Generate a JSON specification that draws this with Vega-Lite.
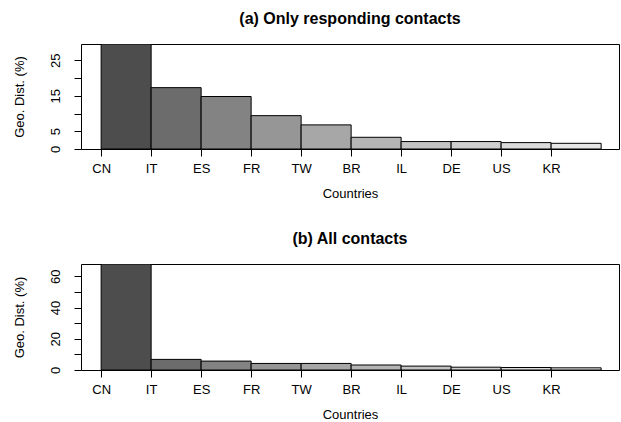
{
  "$schema": "https://vega.github.io/schema/vega-lite/v6.json",
  "background": "white",
  "padding": {"left": 12, "top": 10, "right": 0, "bottom": 0},
  "spacing": 29,
  "config": {
    "font": "Liberation Sans",
    "view": {"stroke": "black", "strokeWidth": 1},
    "axis": {
      "labelFont": "Liberation Sans", "titleFont": "Liberation Sans",
      "labelColor": "black", "titleColor": "black", "tickColor": "black",
      "grid": false, "titleFontWeight": "normal",
      "labelFontSize": 13, "titleFontSize": 13, "tickSize": 7, "domain": false
    },
    "title": {"font": "Liberation Sans", "fontSize": 16, "fontWeight": "bold", "color": "black", "offset": 17, "frame": "group", "anchor": "middle"}
  },
  "datasets": {
    "a": [
      {"country": "CN", "pct": 29.6},
      {"country": "IT", "pct": 17.3},
      {"country": "ES", "pct": 14.8},
      {"country": "FR", "pct": 9.4},
      {"country": "TW", "pct": 6.8},
      {"country": "BR", "pct": 3.3},
      {"country": "IL", "pct": 2.1},
      {"country": "DE", "pct": 2.1},
      {"country": "US", "pct": 1.8},
      {"country": "KR", "pct": 1.6}
    ],
    "b": [
      {"country": "CN", "pct": 67.9},
      {"country": "IT", "pct": 6.8},
      {"country": "ES", "pct": 5.7},
      {"country": "FR", "pct": 4.2},
      {"country": "TW", "pct": 4.2},
      {"country": "BR", "pct": 3.2},
      {"country": "IL", "pct": 2.5},
      {"country": "DE", "pct": 1.8},
      {"country": "US", "pct": 1.6},
      {"country": "KR", "pct": 1.4}
    ]
  },
  "vconcat": [
    {
      "title": "(a) Only responding contacts",
      "width": 538, "height": 105,
      "data": {"name": "a"},
      "mark": {"type": "bar", "stroke": "black", "strokeWidth": 1, "clip": true},
      "encoding": {
        "x": {"field": "country", "type": "nominal", "sort": null,
          "scale": {"paddingInner": 0, "paddingOuter": 0.38, "align": 0.53},
          "axis": {"title": "Countries", "labelAngle": 0, "tickOffset": -25, "labelPadding": 6, "titlePadding": 12}},
        "y": {"field": "pct", "type": "quantitative",
          "scale": {"domain": [0, 29.6], "nice": false},
          "axis": {"title": "Geo. Dist. (%)", "values": [0, 5, 10, 15, 20, 25],
            "labelExpr": "datum.value == 10 || datum.value == 20 ? '' : datum.label",
            "labelAngle": -90, "labelAlign": "center", "labelBaseline": "bottom",
            "labelOverlap": false, "labelPadding": 12, "titlePadding": 23}},
        "color": {"field": "country", "type": "nominal", "sort": null, "legend": null,
          "scale": {"domain": ["CN", "IT", "ES", "FR", "TW", "BR", "IL", "DE", "US", "KR"],
            "range": ["#4D4D4D", "#6C6C6C", "#838383", "#969696", "#A7A7A7", "#B5B5B5", "#C3C3C3", "#CFCFCF", "#DBDBDB", "#E6E6E6"]}}
      }
    },
    {
      "title": "(b) All contacts",
      "width": 538, "height": 106,
      "data": {"name": "b"},
      "mark": {"type": "bar", "stroke": "black", "strokeWidth": 1, "clip": true},
      "encoding": {
        "x": {"field": "country", "type": "nominal", "sort": null,
          "scale": {"paddingInner": 0, "paddingOuter": 0.38, "align": 0.53},
          "axis": {"title": "Countries", "labelAngle": 0, "tickOffset": -25, "labelPadding": 6, "titlePadding": 12}},
        "y": {"field": "pct", "type": "quantitative",
          "scale": {"domain": [0, 67.9], "nice": false},
          "axis": {"title": "Geo. Dist. (%)", "values": [0, 10, 20, 30, 40, 50, 60],
            "labelExpr": "datum.value % 20 == 0 ? datum.label : ''",
            "labelAngle": -90, "labelAlign": "center", "labelBaseline": "bottom",
            "labelOverlap": false, "labelPadding": 12, "titlePadding": 23}},
        "color": {"field": "country", "type": "nominal", "sort": null, "legend": null,
          "scale": {"domain": ["CN", "IT", "ES", "FR", "TW", "BR", "IL", "DE", "US", "KR"],
            "range": ["#4D4D4D", "#6C6C6C", "#838383", "#969696", "#A7A7A7", "#B5B5B5", "#C3C3C3", "#CFCFCF", "#DBDBDB", "#E6E6E6"]}}
      }
    }
  ]
}
